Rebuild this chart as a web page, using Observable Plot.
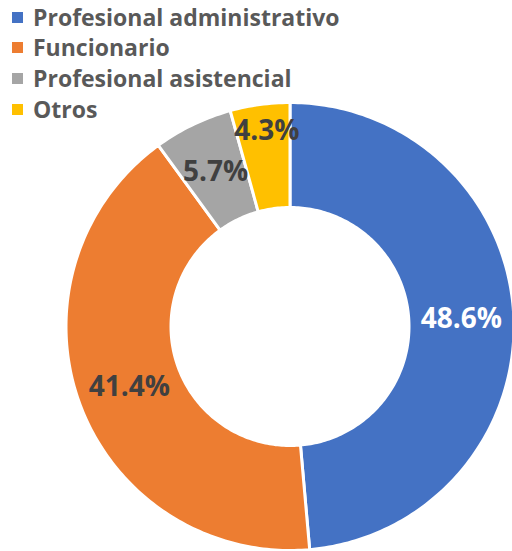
<!DOCTYPE html>
<html>
<head>
<meta charset="utf-8">
<script src="https://cdn.jsdelivr.net/npm/d3@7"></script>
<script src="https://cdn.jsdelivr.net/npm/@observablehq/plot@0.6"></script>
<style>
  html, body { margin: 0; padding: 0; background: #fff; }
  #wrap { position: relative; width: 512px; height: 551px; overflow: hidden; }
  #chart { position: absolute; left: 0; top: 0; }
  #legend { position: absolute; left: 0; top: 1.5px; font-family: "Open Sans", sans-serif; font-weight: 700; font-size: 23px; color: #595959; }
  .item { position: relative; height: 30.8px; line-height: 30.8px; white-space: nowrap; padding-left: 33px; }
  .sw { position: absolute; left: 12px; top: 10px; width: 11px; height: 11px; }
</style>
</head>
<body>
<div id="wrap">
  <div id="chart"></div>
  <div id="legend"></div>
</div>
<script>
const categories = ["Profesional administrativo", "Funcionario", "Profesional asistencial", "Otros"];
const values = [48.6, 41.4, 5.7, 4.3];
const labels = ["48.6%", "41.4%", "5.7%", "4.3%"];
const colors = ["#4472C4", "#ED7D31", "#A5A5A5", "#FFC000"];

const R = 224, r = 119;
const arcs = d3.pie().sort(null)(values);

// slice outlines, built from the pie angles
const poly = [];
arcs.forEach((a, i) => {
  const n = Math.max(8, Math.ceil((a.endAngle - a.startAngle) / (Math.PI / 180)));
  for (let k = 0; k <= n; k++) {
    const t = a.startAngle + (a.endAngle - a.startAngle) * k / n;
    poly.push({cat: categories[i], x: R * Math.sin(t), y: R * Math.cos(t)});
  }
  for (let k = n; k >= 0; k--) {
    const t = a.startAngle + (a.endAngle - a.startAngle) * k / n;
    poly.push({cat: categories[i], x: r * Math.sin(t), y: r * Math.cos(t)});
  }
});

const lab = arcs.map((a, i) => {
  const m = (a.startAngle + a.endAngle) / 2, rm = (R + r) / 2;
  return {i, text: labels[i], x: rm * Math.sin(m), y: rm * Math.cos(m)};
});

const chart = Plot.plot({
  width: 512,
  height: 551,
  margin: 0,
  x: {domain: [-289.5, 222.5], range: [0, 512], axis: null},
  y: {domain: [-225, 326], range: [551, 0], axis: null},
  color: {domain: categories, range: colors},
  style: {fontFamily: "'Open Sans', sans-serif", background: "white"},
  marks: [
    Plot.line(poly, {x: "x", y: "y", z: "cat", fill: "cat", stroke: "white", strokeWidth: 3, curve: "linear-closed"}),
    Plot.text(lab.filter(d => d.i === 0), {x: "x", y: "y", text: "text", fill: "white", fontSize: 28, fontWeight: "bold"}),
    Plot.text(lab.filter(d => d.i === 1 || d.i === 2), {x: "x", y: "y", text: "text", fill: "#404040", fontSize: 28, fontWeight: "bold"}),
    Plot.text(lab.filter(d => d.i === 3), {x: "x", y: "y", text: "text", fill: "#404040", fontSize: 28, fontWeight: "bold", dy: -26})
  ]
});
document.getElementById("chart").appendChild(chart);

const leg = document.getElementById("legend");
categories.forEach((c, i) => {
  const d = document.createElement("div");
  d.className = "item";
  d.innerHTML = `<span class="sw" style="background:${colors[i]}"></span>${c}`;
  leg.appendChild(d);
});
</script>
</body>
</html>
